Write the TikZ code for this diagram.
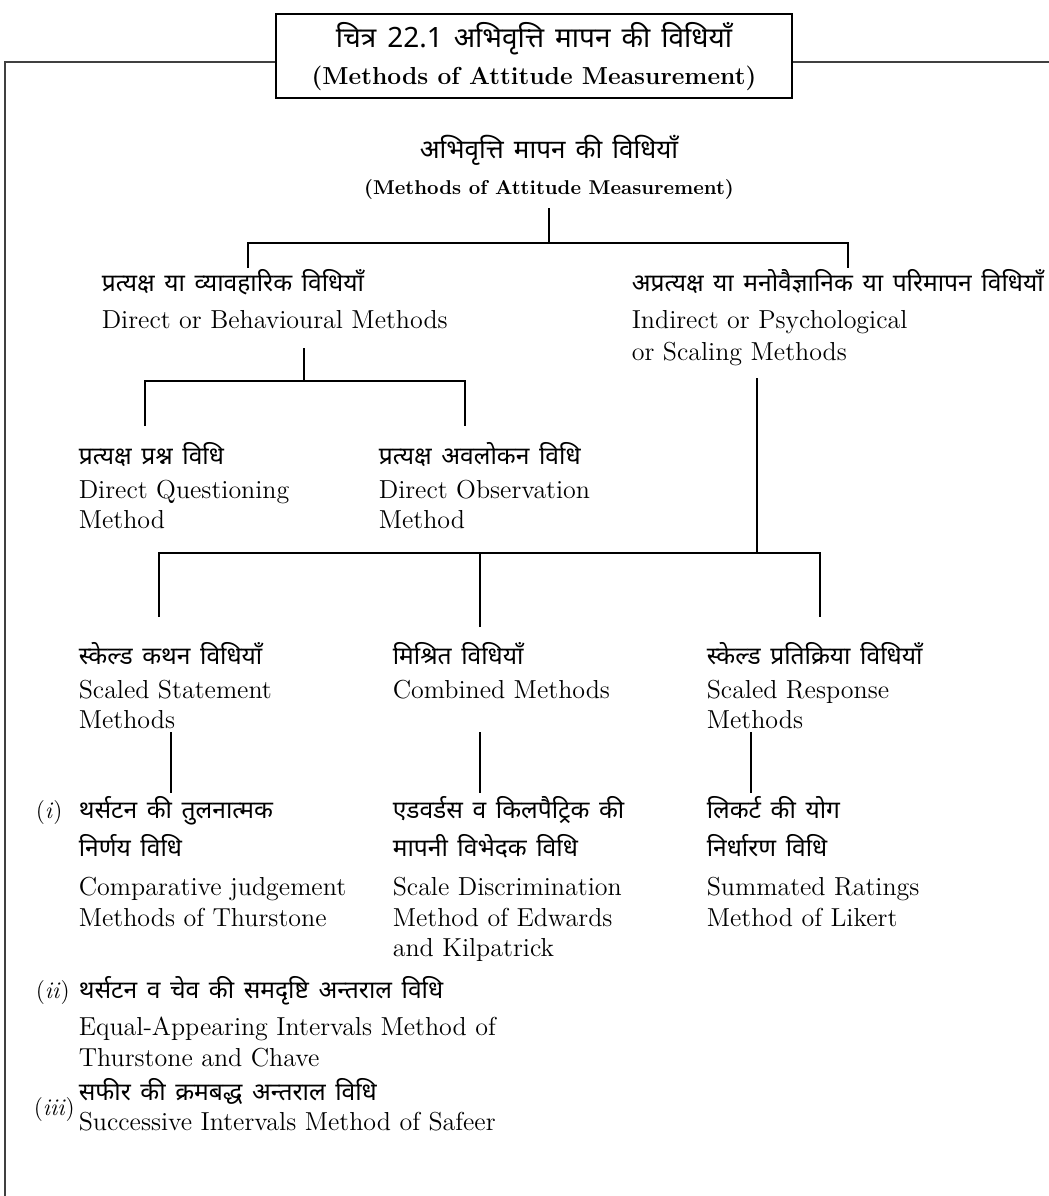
\documentclass[tikz,border=0pt]{standalone}
\usepackage{fontspec}
\newfontfamily\hindi[Script=Devanagari, WordSpace=1.5]{Noto Sans}
\tikzstyle{hin}=[anchor=base west, inner sep=0pt, font=\hindi\fontsize{12.3}{15}\selectfont]
\tikzstyle{eng}=[anchor=base west, inner sep=0pt, font=\fontsize{13}{15}\selectfont]
\tikzstyle{lbl}=[anchor=base west, inner sep=0pt, font=\fontsize{12}{14}\selectfont]
\tikzstyle{head}=[anchor=base, inner sep=0pt]

\begin{document}
\begin{tikzpicture}[x=0.5pt, y=-0.5pt, line width=0.8pt]
	\useasboundingbox (0,0) rectangle (1049,1196);
	% title box and frame
	\node[draw, line width=1pt, minimum width=258pt, minimum height=42pt] (title) at (534,56) {};
	\node[head, font=\hindi\bfseries\fontsize{14}{16}\selectfont] (title1) at (534,47) {चित्र 22.1 अभिवृत्ति मापन की विधियाँ};
	\node[head, font=\bfseries\fontsize{12.3}{14}\selectfont] (title2) at (534,84) {(Methods of Attitude Measurement)};
	\coordinate (ftop) at (0,62);
	\coordinate (fbot) at (5,1196);
	\coordinate (fend) at (1049,62);
	\draw[line width=1pt, black!75] (title.west |- ftop) -| (fbot);
	\draw[line width=1pt, black!75] (title.east |- ftop) -- (fend);

	% root
	\node[head, font=\hindi\bfseries\fontsize{13}{15}\selectfont] (root) at (549,158) {अभिवृत्ति मापन की विधियाँ};
	\node[head, font=\bfseries\fontsize{10}{12}\selectfont] (root2) at (549,194) {(Methods of Attitude Measurement)};

	% level 1
	\node[hin] (dir) at (101,291) {प्रत्यक्ष या व्यावहारिक विधियाँ};
	\node[eng] (dir2) at (101,328) {Direct or Behavioural Methods};
	\node[hin] (ind) at (631,291) {अप्रत्यक्ष या मनोवैज्ञानिक या परिमापन विधियाँ};
	\node[eng] (ind2) at (631,328) {Indirect or Psychological};
	\node[eng] (ind3) at (631,360) {or Scaling Methods};

	% level 2
	\node[hin] (dq) at (78,464) {प्रत्यक्ष प्रश्न विधि};
	\node[eng] (dq2) at (78,498) {Direct Questioning};
	\node[eng] (dq3) at (78,528) {Method};
	\node[hin] (dob) at (378,464) {प्रत्यक्ष अवलोकन विधि};
	\node[eng] (dob2) at (378,498) {Direct Observation};
	\node[eng] (dob3) at (378,528) {Method};

	% level 3
	\node[hin] (ss) at (78,664) {स्केल्ड कथन विधियाँ};
	\node[eng] (ss2) at (78,698) {Scaled Statement};
	\node[eng] (ss3) at (78,728) {Methods};
	\node[hin] (cm) at (392,664) {मिश्रित विधियाँ};
	\node[eng] (cm2) at (392,698) {Combined Methods};
	\node[hin] (sr) at (706,664) {स्केल्ड प्रतिक्रिया विधियाँ};
	\node[eng] (sr2) at (706,698) {Scaled Response};
	\node[eng] (sr3) at (706,728) {Methods};

	% level 4
	\node[lbl] (n1) at (35,818) {(\textit{i})};
	\node[hin] (th) at (78,818) {थर्सटन की तुलनात्मक};
	\node[hin] (th2) at (78,856) {निर्णय विधि};
	\node[eng] (th3) at (78,895) {Comparative judgement};
	\node[eng] (th4) at (78,926) {Methods of Thurstone};
	\node[hin] (ek) at (392,818) {एडवर्डस व किलपैट्रिक की};
	\node[hin] (ek2) at (392,856) {मापनी विभेदक विधि};
	\node[eng] (ek3) at (392,895) {Scale Discrimination};
	\node[eng] (ek4) at (392,926) {Method of Edwards};
	\node[eng] (ek5) at (392,956) {and Kilpatrick};
	\node[hin] (lk) at (706,818) {लिकर्ट की योग};
	\node[hin] (lk2) at (706,856) {निर्धारण विधि};
	\node[eng] (lk3) at (706,895) {Summated Ratings};
	\node[eng] (lk4) at (706,926) {Method of Likert};

	\node[lbl] (n2) at (35,998) {(\textit{ii})};
	\node[hin] (tc) at (78,998) {थर्सटन व चेव की समदृष्टि अन्तराल विधि};
	\node[eng] (tc2) at (78,1035) {Equal-Appearing Intervals Method of};
	\node[eng] (tc3) at (78,1066) {Thurstone and Chave};
	\node[lbl] (n3) at (33,1115) {(\textit{iii})};
	\node[hin] (sf) at (78,1100) {सफीर की क्रमबद्ध अन्तराल विधि};
	\node[eng] (sf2) at (78,1130) {Successive Intervals Method of Safeer};

	% joints of the tree
	\foreach \name/\x/\y in {rj/549/243, a1/248/268, a2/848/268, dj/304/381, b1/145/426, b2/465/426,
		ij/757/553, c1/159/617, c2/480/627, c3/820/617}
	\coordinate (\name) at (\x,\y);
	\foreach \name/\x in {1/171, 2/480, 3/751}
	{
		\coordinate (s\name t) at (\x,732);
		\coordinate (s\name b) at (\x,793);
	}

	\draw ([yshift=-7pt]root2.base) -- (rj);
	\draw (a1) |- (rj) -| (a2);
	\draw (dj |- dir2.south) ++(0,19) -- (dj);
	\draw (b1) |- (dj) -| (b2);
	\draw (ij |- ind3.south) ++(0,12) -- (ij);
	\draw (c1) |- (ij) -| (c3);
	\draw (c2) -- (c2 |- ij);
	\foreach \i in {1,2,3}
	\draw (s\i t) -- (s\i b);
\end{tikzpicture}
\end{document}
